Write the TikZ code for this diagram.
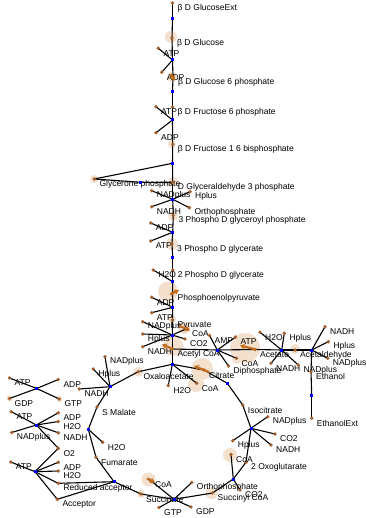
\documentclass[tikz,border=0pt]{standalone}
\usepackage{fontspec}
\setmainfont{Liberation Sans}
\usetikzlibrary{arrows.meta}
\pgfdeclarelayer{bgwhite}
\pgfdeclarelayer{halo}
\pgfdeclarelayer{edges}
\pgfsetlayers{bgwhite,halo,edges,main}
\definecolor{metc}{RGB}{165,95,45}
\definecolor{haloc}{RGB}{243,224,205}
\definecolor{fluxc}{RGB}{195,110,30}
\newcommand\met[4]{\node[metdot] (#1) at (#2,#3) {}; \node[lab] (#1l) at ({#2+5},{#3+5}) {#4};}
\newcommand\rx[4]{\node[rxn] (#1) at (#2,#3) {};
  \begin{pgfonlayer}{edges}\foreach \m in {#4} {\draw[edgeln] (#1.center) -- (\m.center);}\end{pgfonlayer}}
\newcommand\hl[3]{\begin{pgfonlayer}{halo}\fill[haloc] (#1,#2) circle[radius=#3pt];\end{pgfonlayer}}
\begin{document}
\begin{tikzpicture}[x=1pt,y=-1pt,
  metdot/.style={circle,fill=metc,inner sep=0pt,minimum size=3.8pt},
  rxn/.style={rectangle,fill=blue,inner sep=0pt,minimum size=3pt},
  lab/.style={anchor=west,inner sep=0pt,font=\fontsize{8.5}{10}\selectfont},
  edgeln/.style={line width=1.1pt,black},
  flux/.style={line width=2.2pt,fluxc,-{Stealth[length=5pt,width=6pt]}}]
\useasboundingbox (0,0) rectangle (366,518);
\begin{pgfonlayer}{bgwhite}\fill[white] (0,0) rectangle (366,518);\end{pgfonlayer}
% halos
\hl{171}{37}{6}\hl{172}{77}{5}\hl{172}{144}{4}\hl{94.3}{179}{4}\hl{173}{182}{5}
\hl{173}{216}{5}\hl{172}{244}{6}\hl{168}{291.5}{10}\hl{172}{319}{4}\hl{184}{328}{6}
\hl{173}{346}{10}\hl{202}{369}{11}\hl{196}{384}{8}\hl{245}{348}{15}\hl{237}{359}{5}
\hl{295}{349}{5}\hl{138.3}{371.7}{5}\hl{230}{455}{7}\hl{148.5}{479.5}{7}
\hl{211.7}{493.3}{6}\hl{141}{494}{4}\hl{9.5}{398.5}{3}\hl{59.3}{399}{3}
% metabolites
\met{glcx}{172.5}{3}{β D GlucoseExt}
\met{glc}{172}{38}{β D Glucose}
\met{atpa}{158.3}{48.3}{ATP}
\met{adpa}{161.7}{72.3}{ADP}
\met{gsp}{173}{77.5}{β D Glucose 6 phosphate}
\met{fsp}{172.5}{107}{β D Fructose 6 phosphate}
\met{atpb}{156}{106.7}{ATP}
\met{adpb}{156}{132.7}{ADP}
\met{fbp}{172.7}{144.3}{β D Fructose 1 6 bisphosphate}
\met{dhap}{94.3}{179}{Glycerone phosphate}
\met{gap}{172.7}{182.5}{D Glyceraldehyde 3 phosphate}
\met{nada}{151.7}{190.7}{NADplus}
\met{hpa}{190}{191.7}{Hplus}
\met{nadha}{151.7}{206.7}{NADH}
\met{pia}{189.3}{207.7}{Orthophosphate}
\met{bpg}{173.3}{215.5}{3 Phospho D glyceroyl phosphate}
\met{adpc}{150.7}{223}{ADP}
\met{atpc}{150.7}{241}{ATP}
\met{pgc}{172}{244}{3 Phospho D glycerate}
\met{pgb}{172.7}{270}{2 Phospho D glycerate}
\met{h2oa}{153.3}{270}{H2O}
\met{pep}{172.5}{293.5}{Phosphoenolpyruvate}
\met{adpd}{151.7}{297.3}{ADP}
\met{atpd}{151.7}{312.7}{ATP}
\met{pyr}{172.5}{320}{Pyruvate}
\met{nadb}{142.7}{321.7}{NADplus}
\met{hpb}{142.7}{334}{Hplus}
\met{nadhb}{142.7}{346.7}{NADH}
\met{coaa}{187}{328.5}{CoA}
\met{coxa}{185}{339}{CO2}
\met{accoa}{172.3}{349}{Acetyl CoA}
\met{oaa}{138.3}{371.7}{Oxaloacetate}
\met{h2ob}{168.3}{385.5}{H2O}
\met{cit}{204}{370}{Citrate}
\met{coab}{196.7}{383.3}{CoA}
\met{icit}{242.7}{405}{Isocitrate}
\met{nadc}{267.7}{416.7}{NADplus}
\met{coxb}{275}{434}{CO2}
\met{nadhc}{271}{445}{NADH}
\met{hpc}{232.7}{440.7}{Hplus}
\met{akg}{246}{462.3}{2 Oxoglutarate}
\met{coac}{231}{454.5}{CoA}
\met{coxc}{240}{490}{CO2}
\met{succoa}{212.5}{493}{Succinyl CoA}
\met{coad}{150}{480}{CoA}
\met{pib}{191.7}{482.5}{Orthophosphate}
\met{gtpa}{159}{507.5}{GTP}
\met{gdpa}{191}{507}{GDP}
\met{succ}{141}{494}{Succinate}
\met{fum}{96}{457.3}{Fumarate}
\met{redacc}{58.3}{483.3}{Reduced acceptor}
\met{acc}{57.3}{499.3}{Acceptor}
\met{h2oc}{102.7}{442.3}{H2O}
\met{mal}{97}{407}{S Malate}
\met{nadd}{105}{356.7}{NADplus}
\met{hpd}{93.3}{369}{Hplus}
\met{nadhd}{79.3}{389}{NADH}
\met{atpe}{9.5}{378}{ATP}
\met{adpe}{58.3}{379.5}{ADP}
\met{gdpb}{9.5}{398.5}{GDP}
\met{gtpb}{59.3}{399}{GTP}
\met{atpf}{11.3}{411.7}{ATP}
\met{adpf}{58.3}{412.8}{ADP}
\met{h2od}{58.3}{421.5}{H2O}
\met{nadhe}{58.3}{432.8}{NADH}
\met{nade}{11.7}{432.5}{NADplus}
\met{otwo}{58.3}{448.3}{O2}
\met{atpg}{10.7}{462}{ATP}
\met{adpg}{58.3}{462.3}{ADP}
\met{h2oe}{58.3}{471}{H2O}
\met{amp}{209.5}{335.5}{AMP}
\met{atph}{235.5}{337}{ATP}
\met{coae}{236.5}{358.3}{CoA}
\met{ppi}{228.5}{366}{Diphosphate}
\met{ac}{255}{349.5}{Acetate}
\met{h2of}{260}{332.3}{H2O}
\met{hpe}{284.3}{333.3}{Hplus}
\met{nadhf}{271}{363.3}{NADH}
\met{nadf}{298.3}{365}{NADplus}
\met{acald}{295}{350}{Acetaldehyde}
\met{nadhg}{325}{326.7}{NADH}
\met{hpf}{328.3}{341.7}{Hplus}
\met{nadg}{327.7}{358.3}{NADplus}
\met{etoh}{311}{371.7}{Ethanol}
\met{etohx}{311.7}{418.3}{EthanolExt}
% reactions
\rx{ra}{172.5}{19}{glcx,glc}
\rx{rb}{172.5}{60}{glc,atpa,adpa,gsp}
\rx{rc}{172.5}{91.7}{gsp,fsp}
\rx{rd}{172.5}{120}{fsp,atpb,adpb,fbp}
\rx{re}{172.5}{163.3}{fbp,dhap,gap}
\rx{rf}{140.7}{182.3}{dhap,gap}
\rx{rg}{172.7}{199.3}{gap,nada,hpa,nadha,pia,bpg}
\rx{rh}{172.7}{232.3}{bpg,adpc,atpc,pgc}
\rx{ri}{172.7}{257.7}{pgc,pgb}
\rx{rj}{172.7}{281.7}{pgb,h2oa,pep}
\rx{rk}{172.7}{307.3}{pep,adpd,atpd,pyr}
\rx{rl}{172.3}{335}{pyr,nadb,hpb,nadhb,coaa,coxa,accoa}
\rx{rm}{172.3}{364.3}{accoa,oaa,h2ob,cit,coab}
\rx{rn}{227.3}{383.3}{cit,icit}
\rx{ro}{251}{428.3}{icit,nadc,coxb,nadhc,hpc,akg}
\rx{rp}{233.3}{479}{akg,coac,coxc,succoa}
\rx{rq}{174}{499.3}{succoa,coad,pib,gtpa,gdpa,succ}
\rx{rr}{114}{481.7}{succ,fum,redacc,acc}
\rx{rs}{88.3}{429.3}{fum,h2oc,mal}
\rx{rt}{110}{386.7}{mal,nadd,hpd,nadhd,oaa}
\rx{ru}{36.7}{388.5}{atpe,adpe,gdpb,gtpb}
\rx{rv}{36.3}{425}{atpf,adpf,h2od,nadhe,nade,otwo}
\rx{rw}{35}{471.7}{otwo,atpg,adpg,h2oe,redacc,acc}
\rx{rx}{217.3}{350}{accoa,amp,atph,coae,ppi,ac}
\rx{ry}{281.7}{350}{ac,h2of,hpe,nadhf,nadf,acald}
\rx{rz}{311.7}{350}{acald,nadhg,hpf,nadg,etoh}
\rx{rzz}{311.7}{395}{etoh,etohx}
% flux arrows
\coordinate (fa1) at (170.5,74);   \coordinate (fa2) at (175,80.5);
\coordinate (fb1) at (170,294.5);  \coordinate (fb2) at (179,290);
\coordinate (fc1) at (179.5,326);  \coordinate (fc2) at (190,330.5);
\coordinate (fd1) at (173,349);    \coordinate (fd2) at (162,344.5);
\coordinate (fe1) at (209,372);    \coordinate (fe2) at (194,366);
\coordinate (ff1) at (256,349.5);  \coordinate (ff2) at (240,345.5);
\coordinate (fg1) at (147,478.5);  \coordinate (fg2) at (155,482.5);
\draw[flux] (fa1) -- (fa2);
\draw[flux] (fb1) -- (fb2);
\draw[flux] (fc1) -- (fc2);
\draw[flux] (fd1) -- (fd2);
\draw[flux] (fe1) -- (fe2);
\draw[flux] (ff1) -- (ff2);
\draw[flux] (fg1) -- (fg2);
\end{tikzpicture}
\end{document}
